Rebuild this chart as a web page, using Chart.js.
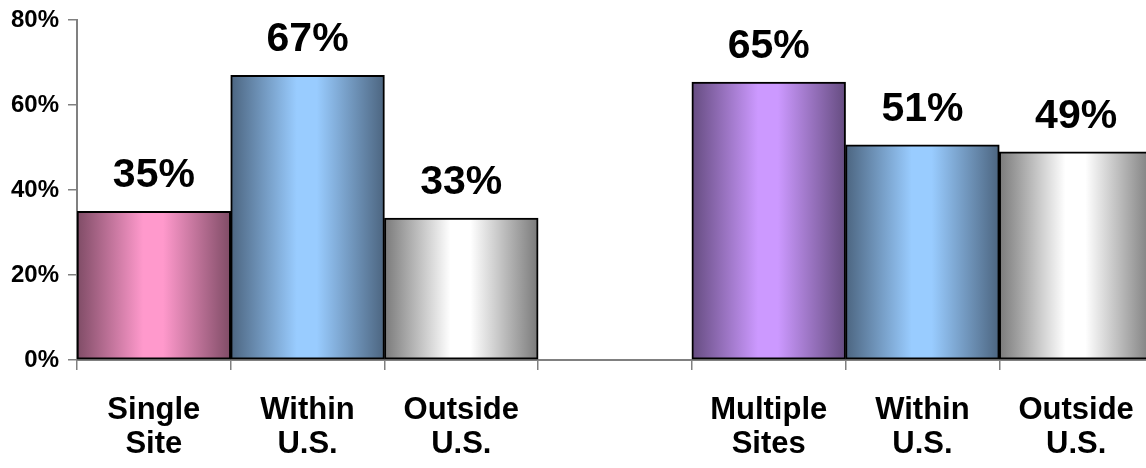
<!DOCTYPE html>
<html>
<head>
<meta charset="utf-8">
<script src="https://cdn.jsdelivr.net/npm/chart.js@4/dist/chart.umd.min.js"></script>
<style>
  html, body { margin: 0; padding: 0; background: #ffffff; overflow: hidden; }
  #wrap { width: 1146px; height: 468px; overflow: hidden; }
  canvas { display: block; }
</style>
</head>
<body>
<div id="wrap"><canvas id="c" width="1160" height="468"></canvas></div>
<script>
// ---- data ----
const categories = [
  ['Single', 'Site'],
  ['Within', 'U.S.'],
  ['Outside', 'U.S.'],
  '',
  ['Multiple', 'Sites'],
  ['Within', 'U.S.'],
  ['Outside', 'U.S.']
];
const values = [35, 67, 33.4, null, 65.4, 50.6, 49];
const yTicks = [0, 20, 40, 60, 80];

// ---- styles ----
const lightColors = ['#ff99cc', '#99ccff', '#ffffff', '#ffffff', '#cc99ff', '#99ccff', '#ffffff'];
const darkColors  = ['#7f4c66', '#4c6580', '#7a7a7a', '#7a7a7a', '#654c80', '#4c6580', '#7a7a7a'];

const FONT = '"Liberation Sans", Arial, Helvetica, sans-serif';

function barGradient(ctx) {
  const chart = ctx.chart;
  if (!chart.chartArea) return lightColors[ctx.dataIndex];
  const xs = chart.scales.x;
  const i = ctx.dataIndex;
  const c = xs.getPixelForValue(i);
  const w = xs.getPixelForValue(1) - xs.getPixelForValue(0);
  const g = chart.ctx.createLinearGradient(c - w / 2, 0, c + w / 2, 0);
  g.addColorStop(0, darkColors[i]);
  g.addColorStop(0.43, lightColors[i]);
  g.addColorStop(0.56, lightColors[i]);
  g.addColorStop(1, darkColors[i]);
  return g;
}

const valueLabels = {
  id: 'valueLabels',
  afterDatasetsDraw(chart) {
    const ctx = chart.ctx;
    const meta = chart.getDatasetMeta(0);
    ctx.save();
    ctx.font = 'bold 41px ' + FONT;
    ctx.fillStyle = '#000000';
    ctx.textAlign = 'center';
    ctx.textBaseline = 'alphabetic';
    meta.data.forEach((bar, i) => {
      const v = values[i];
      if (v == null) return;
      ctx.fillText(Math.round(v) + '%', bar.x, bar.y - 24);
    });
    ctx.restore();
  }
};

new Chart(document.getElementById('c'), {
  type: 'bar',
  data: {
    labels: categories,
    datasets: [{
      data: values,
      backgroundColor: barGradient,
      borderColor: '#000000',
      borderWidth: 2,
      borderSkipped: false,
      barPercentage: 1,
      categoryPercentage: 1
    }]
  },
  options: {
    responsive: false,
    animation: false,
    devicePixelRatio: 1,
    layout: { padding: { top: 20, right: 7, left: 0, bottom: 0 } },
    plugins: { legend: { display: false }, tooltip: { enabled: false } },
    scales: {
      x: {
        offset: true,
        grid: { display: true, offset: true, drawOnChartArea: false, drawTicks: true, tickLength: 10, color: '#808080', lineWidth: 1.5 },
        border: { display: true, color: '#808080', width: 2 },
        ticks: {
          color: '#000000',
          font: { family: FONT, size: 31, weight: 'bold', lineHeight: 1.1 },
          padding: 23,
          maxRotation: 0,
          autoSkip: false
        },
        afterFit(scale) { scale.height = 108; }
      },
      y: {
        min: 0,
        max: 80,
        afterBuildTicks(scale) { scale.ticks = yTicks.map(v => ({ value: v })); },
        grid: { display: true, drawOnChartArea: false, drawTicks: true, tickLength: 9, color: '#808080', lineWidth: 1.5 },
        border: { display: true, color: '#808080', width: 2 },
        ticks: {
          color: '#000000',
          font: { family: FONT, size: 24, weight: 'bold' },
          padding: 9,
          callback: v => v + '%'
        },
        afterFit(scale) { scale.width = 77; scale.paddingTop = 0; }
      }
    }
  },
  plugins: [valueLabels]
});
</script>
</body>
</html>
